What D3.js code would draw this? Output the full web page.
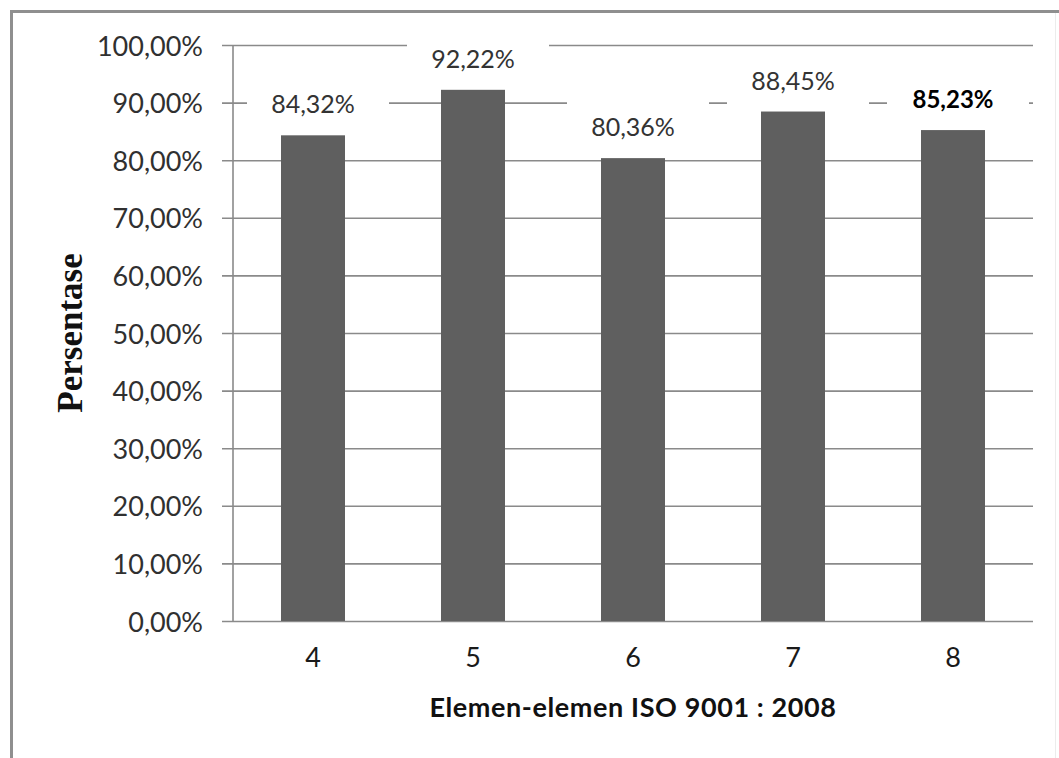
<!DOCTYPE html>
<html>
<head>
<meta charset="utf-8">
<script src="https://cdn.jsdelivr.net/npm/d3@7"></script>
<style>
  html, body { margin: 0; padding: 0; background: #ffffff; }
  svg { display: block; }
</style>
</head>
<body>
<svg id="chart" width="1059" height="758"></svg>
<script>
// ---- data ----
const categories = ["4", "5", "6", "7", "8"];
const values = [0.8432, 0.9222, 0.8036, 0.8845, 0.8523];
const valueLabels = ["84,32%", "92,22%", "80,36%", "88,45%", "85,23%"];
const tickValues = [0, 0.1, 0.2, 0.3, 0.4, 0.5, 0.6, 0.7, 0.8, 0.9, 1.0];
const xTitle = "Elemen-elemen ISO 9001 : 2008";
const yTitle = "Persentase";

// ---- layout ----
const svg = d3.select("#chart");
const plot = { left: 233, right: 1033, top: 45, bottom: 621 };
const sansFont = "Lato, 'Open Sans', sans-serif";

const x = d3.scaleBand()
  .domain(categories)
  .range([plot.left, plot.right])
  .paddingInner(0.6)
  .paddingOuter(0.3);

const y = d3.scaleLinear()
  .domain([0, 1])
  .range([plot.bottom, plot.top]);

const fmt = v => d3.format(".2f")(v * 100).replace(".", ",") + "%";

// frame border
svg.append("line").attr("x1", 11.5).attr("x2", 11.5).attr("y1", 10).attr("y2", 758)
  .attr("stroke", "#8f8f8f").attr("stroke-width", 3);
svg.append("line").attr("x1", 10).attr("x2", 1059).attr("y1", 11.5).attr("y2", 11.5)
  .attr("stroke", "#8f8f8f").attr("stroke-width", 3);
svg.append("line").attr("x1", 1055.5).attr("x2", 1055.5).attr("y1", 13).attr("y2", 758)
  .attr("stroke", "#ececec").attr("stroke-width", 1);

// y axis with gridlines
const yAxis = d3.axisLeft(y)
  .tickValues(tickValues)
  .tickSize(-(plot.right - plot.left))
  .tickFormat(fmt);

const gy = svg.append("g")
  .attr("transform", `translate(${plot.left},0)`)
  .call(yAxis);
gy.select(".domain").remove();
gy.selectAll(".tick line")
  .attr("x1", -11)
  .attr("stroke", "#8a8a8a")
  .attr("stroke-width", 1.6);
gy.selectAll(".tick text")
  .attr("x", -30)
  .attr("dy", null)
  .attr("y", 10)
  .attr("font-family", sansFont)
  .attr("font-size", 27)
  .attr("fill", "#303030");

// vertical axis line
svg.append("line")
  .attr("x1", plot.left).attr("x2", plot.left)
  .attr("y1", y(1)).attr("y2", y(0))
  .attr("stroke", "#8a8a8a").attr("stroke-width", 1.6);

// bars
svg.append("g").selectAll("rect")
  .data(values)
  .join("rect")
  .attr("x", (d, i) => x(categories[i]))
  .attr("y", d => y(d))
  .attr("width", x.bandwidth())
  .attr("height", d => y(0) - y(d))
  .attr("fill", "#5f5f5f");

// data labels with white boxes
const lab = svg.append("g").selectAll("g")
  .data(values)
  .join("g")
  .attr("transform", (d, i) => `translate(${x(categories[i]) + x.bandwidth() / 2},${y(d) - 22})`);
lab.append("rect")
  .attr("x", -66).attr("y", -37)
  .attr("width", 142).attr("height", 56)
  .attr("fill", "#ffffff");
lab.append("text")
  .attr("text-anchor", "middle")
  .attr("font-family", sansFont)
  .attr("font-size", (d, i) => i === values.length - 1 ? 24 : 25)
  .attr("font-weight", (d, i) => i === values.length - 1 ? "bold" : "normal")
  .attr("fill", (d, i) => i === values.length - 1 ? "#000000" : "#333333")
  .text((d, i) => valueLabels[i]);

// x category labels
const xAxis = d3.axisBottom(x).tickSize(0).tickPadding(0);
const gx = svg.append("g")
  .attr("transform", `translate(0,${plot.bottom})`)
  .call(xAxis);
gx.select(".domain").remove();
gx.selectAll(".tick text")
  .attr("dy", null)
  .attr("y", 46)
  .attr("font-family", sansFont)
  .attr("font-size", 27)
  .attr("fill", "#1a1a1a");

// x title
svg.append("text")
  .attr("x", (plot.left + plot.right) / 2)
  .attr("y", 717)
  .attr("text-anchor", "middle")
  .attr("font-family", sansFont)
  .attr("font-weight", "bold")
  .attr("font-size", 27)
  .attr("letter-spacing", 0.6)
  .attr("fill", "#111111")
  .text(xTitle);

// y title
svg.append("text")
  .attr("transform", "translate(82,333) rotate(-90)")
  .attr("text-anchor", "middle")
  .attr("font-family", "'Liberation Serif', 'Times New Roman', serif")
  .attr("font-weight", "bold")
  .attr("font-size", 35)
  .attr("fill", "#111111")
  .text(yTitle);
</script>
</body>
</html>
